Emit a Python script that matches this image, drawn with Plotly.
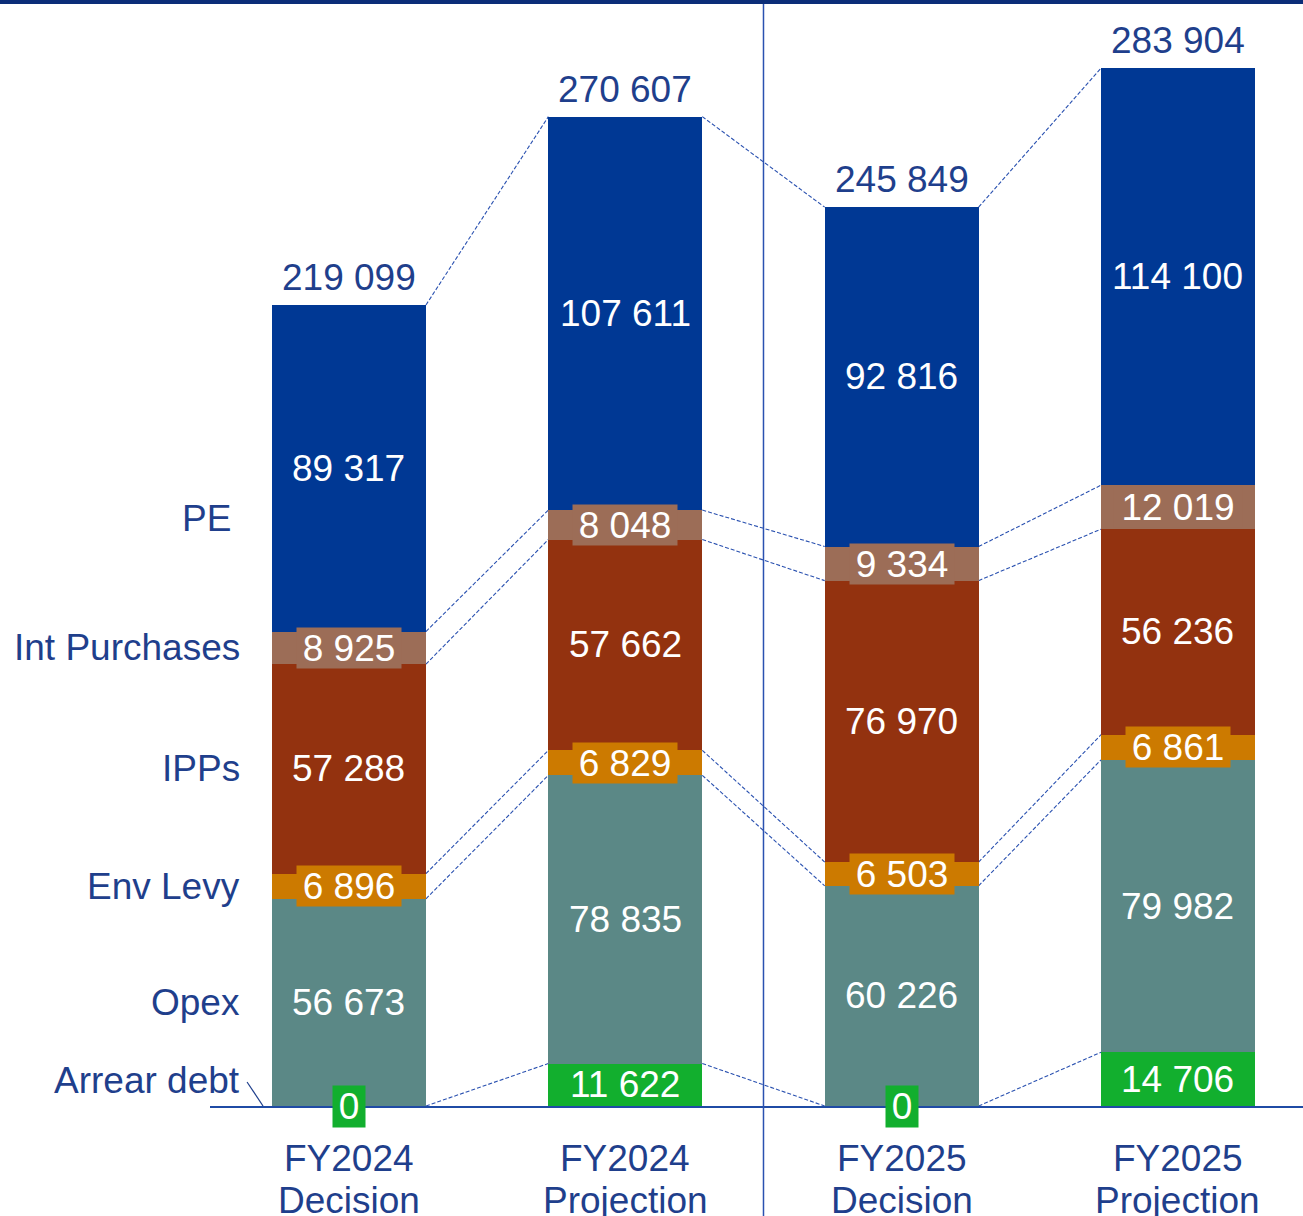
import plotly.graph_objects as go

categories = ["FY2024 Decision", "FY2024 Projection", "FY2025 Decision", "FY2025 Projection"]
cat_line1 = ["FY2024", "FY2024", "FY2025", "FY2025"]
cat_line2 = ["Decision", "Projection", "Decision", "Projection"]

segments = ["Arrear debt", "Opex", "Env Levy", "IPPs", "Int Purchases", "PE"]
arrear_debt = [0, 11622, 0, 14706]
opex = [56673, 78835, 60226, 79982]
env_levy = [6896, 6829, 6503, 6861]
ipps = [57288, 57662, 76970, 56236]
int_purchases = [8925, 8048, 9334, 12019]
pe = [89317, 107611, 92816, 114100]
totals = [219099, 270607, 245849, 283904]

colors = {
    "Arrear debt": "#12AF2E",
    "Opex": "#5B8886",
    "Env Levy": "#CC7A00",
    "IPPs": "#93320F",
    "Int Purchases": "#9C6D57",
    "PE": "#003894",
}
series = {
    "Arrear debt": arrear_debt,
    "Opex": opex,
    "Env Levy": env_levy,
    "IPPs": ipps,
    "Int Purchases": int_purchases,
    "PE": pe,
}

NAVY = "#1F3F8C"
LINEBLUE = "#2A51B0"
FONT = "Arial, Liberation Sans, sans-serif"
FS = 37
W = 0.557
xs = list(range(len(categories)))


def fmt(v):
    return f"{v:,}".replace(",", " ")


fig = go.Figure()
for s in segments:
    fig.add_trace(go.Bar(
        x=xs, y=series[s], width=W, name=s,
        marker=dict(color=colors[s], line=dict(width=0)),
        hoverinfo="skip",
    ))

# cumulative boundaries
cum = []  # cum[i][k] = top of segment k for bar i
for i in xs:
    c, row = 0, []
    for s in segments:
        c += series[s][i]
        row.append(c)
    cum.append(row)

shapes = []
# dashed connectors between adjacent bars
for i in range(len(xs) - 1):
    for k in range(len(segments)):
        shapes.append(dict(
            type="line", xref="x", yref="y",
            x0=i + W / 2, y0=cum[i][k], x1=i + 1 - W / 2, y1=cum[i + 1][k],
            line=dict(color=LINEBLUE, width=1.1, dash="4px,2px"), layer="below",
        ))

# top rule
shapes.append(dict(type="line", xref="paper", yref="paper",
                   x0=-0.2, x1=1.01, y0=1 - 2 / 1106, y1=1 - 2 / 1106,
                   line=dict(color="#0B2D78", width=4)))
# separator between fiscal years
shapes.append(dict(type="line", xref="x", yref="paper",
                   x0=1.5, x1=1.5, y0=1 - 4 / 1106, y1=-0.12,
                   line=dict(color=LINEBLUE, width=1.5)))
# leader for arrear debt label
shapes.append(dict(type="line", xref="x", yref="y",
                   xsizemode="pixel", ysizemode="pixel",
                   xanchor=-W / 2, yanchor=0,
                   x0=-9, x1=-25, y0=0, y1=24,
                   line=dict(color=NAVY, width=1.2)))

annotations = []
# segment labels
for i in xs:
    base = 0
    for k, s in enumerate(segments):
        v = series[s][i]
        mid = base + v / 2
        base += v
        txt = fmt(v)
        a = dict(x=i, y=mid, xref="x", yref="y", text=txt, showarrow=False,
                 font=dict(family=FONT, size=FS, color="white"),
                 xanchor="center", yanchor="middle")
        if s in ("Env Levy", "Int Purchases"):
            a.update(bgcolor=colors[s], width=104 if len(txt) <= 5 else 128,
                     height=40, borderpad=0)
        if s == "Arrear debt" and v == 0:
            a.update(bgcolor=colors[s], width=32, height=41, borderpad=0, y=0)
        annotations.append(a)
    # total
    annotations.append(dict(x=i, y=totals[i], xref="x", yref="y", text=fmt(totals[i]),
                            showarrow=False, yanchor="bottom", yshift=5,
                            font=dict(family=FONT, size=FS, color=NAVY)))
    # category labels
    annotations.append(dict(x=i, y=0, xref="x", yref="y", text=cat_line1[i], showarrow=False,
                            yanchor="middle", yshift=-52,
                            font=dict(family=FONT, size=FS, color=NAVY)))
    annotations.append(dict(x=i, y=0, xref="x", yref="y", text=cat_line2[i], showarrow=False,
                            yanchor="middle", yshift=-94,
                            font=dict(family=FONT, size=FS, color=NAVY)))

# left side legend labels aligned with first bar
base = 0
for k, s in enumerate(segments):
    v = series[s][0]
    mid = base + v / 2
    base += v
    xshift, yshift, y = -30, 0, mid
    if s == "PE":
        xshift, yshift = -39, -50
    if s == "Arrear debt":
        y, yshift = 0, 26
    annotations.append(dict(x=-W / 2, y=y, xref="x", yref="y", text=s, showarrow=False,
                            xanchor="right", yanchor="middle", xshift=xshift, yshift=yshift,
                            font=dict(family=FONT, size=FS, color=NAVY)))

fig.update_layout(
    barmode="stack",
    width=1303, height=1216,
    margin=dict(l=210, r=0, t=0, b=110, autoexpand=False),
    paper_bgcolor="white", plot_bgcolor="white",
    showlegend=False,
    shapes=shapes, annotations=annotations,
    xaxis=dict(range=[-0.503, 3.4524], showgrid=False, zeroline=False, showticklabels=False,
               ticks="", showline=True, linecolor="#1F4BA5", linewidth=2, fixedrange=True),
    yaxis=dict(range=[0, 1106 / 0.003656], showgrid=False, zeroline=False, showticklabels=False,
               ticks="", showline=False, fixedrange=True),
)

fig.write_html("out.html")
